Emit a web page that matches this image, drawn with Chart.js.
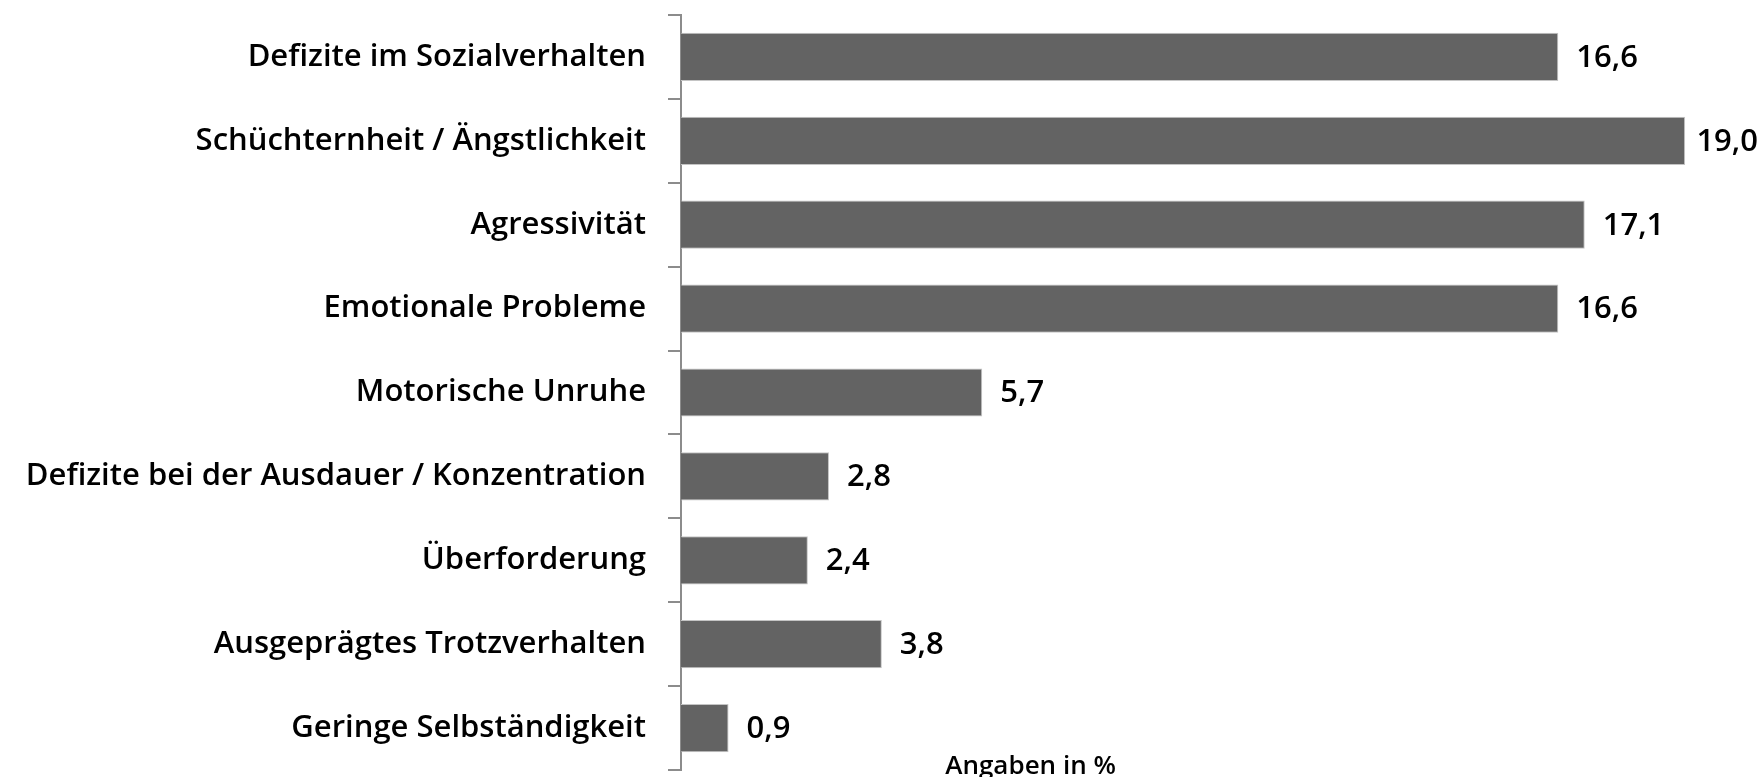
<!DOCTYPE html>
<html>
<head>
<meta charset="utf-8">
<script src="https://cdn.jsdelivr.net/npm/chart.js@4.4.0/dist/chart.umd.min.js"></script>
<style>
  body { margin: 0; background: #fff; }
  canvas { display: block; }
</style>
</head>
<body>
<canvas id="chart" width="1762" height="777"></canvas>
<script>
// data
const categories = [
    'Defizite im Sozialverhalten',
    'Schüchternheit / Ängstlichkeit',
    'Agressivität',
    'Emotionale Probleme',
    'Motorische Unruhe',
    'Defizite bei der Ausdauer / Konzentration',
    'Überforderung',
    'Ausgeprägtes Trotzverhalten',
    'Geringe Selbständigkeit',
];
const values = [16.6, 19.0, 17.1, 16.6, 5.7, 2.8, 2.4, 3.8, 0.9];
const unitNote = 'Angaben in %';

const labelFont = '"Open Sans", sans-serif';

// value labels next to the bars + unit note
const valueLabels = {
    id: 'valueLabels',
    afterDatasetsDraw(chart) {
        const ctx = chart.ctx;
        const meta = chart.getDatasetMeta(0);
        ctx.save();
        ctx.fillStyle = '#000';
        ctx.font = '600 31px ' + labelFont;
        ctx.textBaseline = 'middle';
        ctx.textAlign = 'left';
        meta.data.forEach(function (bar, i) {
            const txt = values[i].toFixed(1).replace('.', ',');
            const w = ctx.measureText(txt).width;
            const x = Math.min(bar.x + 18, chart.width - w - 4);
            ctx.fillText(txt, x, bar.y + 1);
        });
        // unit note under the chart
        const xs = chart.scales.x;
        ctx.font = '600 26px ' + labelFont;
        ctx.textBaseline = 'bottom';
        ctx.fillText(unitNote, xs.getPixelForValue(5), chart.height + 3);
        ctx.restore();
    },
};

const ctx = document.getElementById('chart').getContext('2d');
const chart = new Chart(ctx, {
    type: 'bar',
    data: {
        labels: categories,
        datasets: [
            {
                data: values,
                backgroundColor: '#636363',
                borderColor: '#c4c4c4',
                borderWidth: 1,
                categoryPercentage: 1,
                barPercentage: 0.575,
            },
        ],
    },
    options: {
        indexAxis: 'y',
        responsive: false,
        animation: false,
        layout: { padding: { top: 15, bottom: 7, left: 0, right: 24 } },
        plugins: {
            legend: { display: false },
            tooltip: { enabled: false },
        },
        scales: {
            x: {
                display: false,
                min: 0,
                max: 20,
            },
            y: {
                afterFit: function (scale) {
                    scale.width = 681;
                    scale.paddingTop = 0;
                    scale.paddingBottom = 0;
                },
                border: { display: true, color: '#8c8c8c', width: 2 },
                grid: {
                    drawOnChartArea: false,
                    drawTicks: true,
                    tickLength: 13,
                    color: '#8c8c8c',
                    lineWidth: 2,
                },
                ticks: {
                    color: '#000',
                    padding: 22,
                    font: { family: labelFont, size: 31, weight: '600' },
                },
            },
        },
    },
    plugins: [valueLabels],
});
</script>
</body>
</html>
